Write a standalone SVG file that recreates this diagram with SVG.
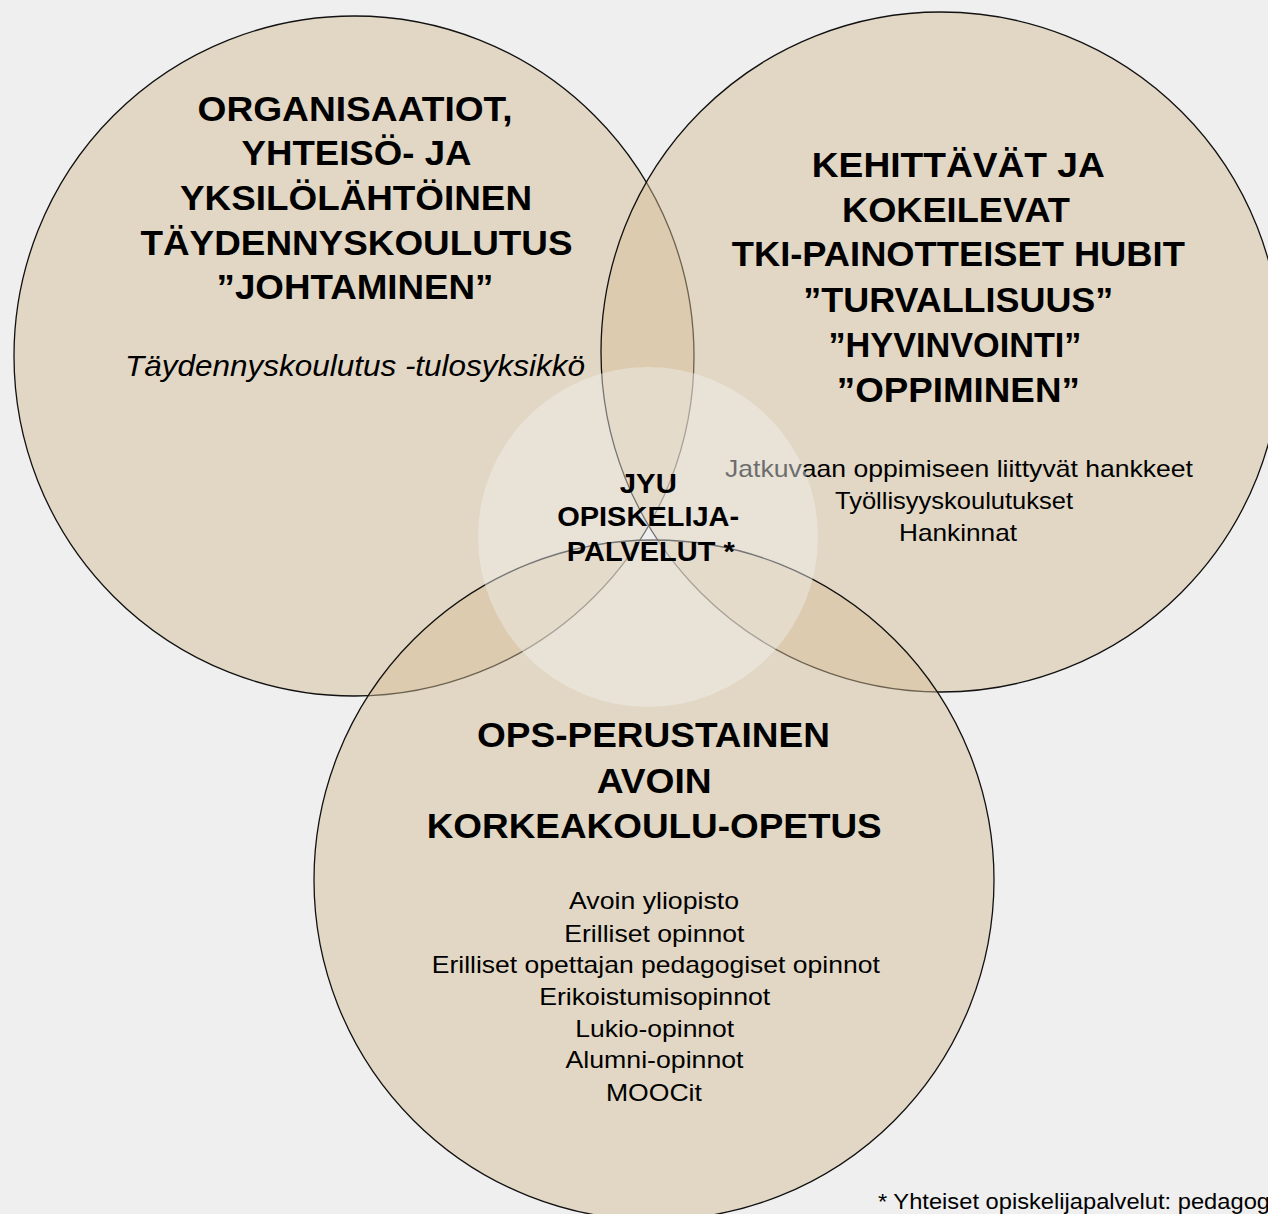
<svg xmlns="http://www.w3.org/2000/svg" width="1268" height="1214" viewBox="0 0 1268 1214">
  <style>
    .venn { fill: #d5be94; fill-opacity: 0.47; stroke: #111111; stroke-width: 1.3; }
    .hub { fill: #efefef; fill-opacity: 0.45; stroke: none; }
    text { font-family: "Liberation Sans", Arial, Helvetica, sans-serif; fill: #000; text-anchor: middle; }
    .title { font-size: 34.5px; font-weight: bold; }
    .ctitle { font-size: 27.5px; font-weight: bold; }
    .body { font-size: 24px; }
    .ital { font-size: 29px; font-style: italic; }
    .note { font-size: 22.5px; text-anchor: start; }
  </style>
  <rect x="0" y="0" width="1268" height="1214" fill="#efefef"/>

  <g id="circle-left">
    <circle class="venn" cx="354" cy="356" r="340"/>
  </g>
  <g id="circle-right">
    <circle class="venn" cx="941" cy="352" r="340"/>
  </g>
  <g id="circle-bottom">
    <circle class="venn" cx="654" cy="880" r="340"/>
  </g>

  <g id="label-left">
    <text class="title" x="355" y="120.5" textLength="315" lengthAdjust="spacingAndGlyphs">ORGANISAATIOT,</text>
    <text class="title" x="356.5" y="165" textLength="230" lengthAdjust="spacingAndGlyphs">YHTEISÖ- JA</text>
    <text class="title" x="356" y="210" textLength="352" lengthAdjust="spacingAndGlyphs">YKSILÖLÄHTÖINEN</text>
    <text class="title" x="356.5" y="254.5" textLength="432" lengthAdjust="spacingAndGlyphs">TÄYDENNYSKOULUTUS</text>
    <text class="title" x="355" y="298.5" textLength="277" lengthAdjust="spacingAndGlyphs">”JOHTAMINEN”</text>
    <text class="ital" x="355" y="375.5" textLength="460" lengthAdjust="spacingAndGlyphs">Täydennyskoulutus -tulosyksikkö</text>
  </g>

  <g id="label-right">
    <text class="title" x="958.3" y="176.7" textLength="293" lengthAdjust="spacingAndGlyphs">KEHITTÄVÄT JA</text>
    <text class="title" x="956" y="221.7" textLength="228" lengthAdjust="spacingAndGlyphs">KOKEILEVAT</text>
    <text class="title" x="958.3" y="266" textLength="453" lengthAdjust="spacingAndGlyphs">TKI-PAINOTTEISET HUBIT</text>
    <text class="title" x="958.3" y="311.7" textLength="310" lengthAdjust="spacingAndGlyphs">”TURVALLISUUS”</text>
    <text class="title" x="955" y="356.7" textLength="253" lengthAdjust="spacingAndGlyphs">”HYVINVOINTI”</text>
    <text class="title" x="958.3" y="401.7" textLength="243" lengthAdjust="spacingAndGlyphs">”OPPIMINEN”</text>
    <text class="body" x="959" y="476.7" textLength="468" lengthAdjust="spacingAndGlyphs">Jatkuvaan oppimiseen liittyvät hankkeet</text>
    <text class="body" x="954" y="509.3" textLength="238" lengthAdjust="spacingAndGlyphs">Työllisyyskoulutukset</text>
    <text class="body" x="958" y="540.7" textLength="118" lengthAdjust="spacingAndGlyphs">Hankinnat</text>
  </g>

  <g id="label-bottom">
    <text class="title" x="653.5" y="747.3" textLength="353" lengthAdjust="spacingAndGlyphs">OPS-PERUSTAINEN</text>
    <text class="title" x="654.2" y="792.7" textLength="115" lengthAdjust="spacingAndGlyphs">AVOIN</text>
    <text class="title" x="654.2" y="838.3" textLength="455" lengthAdjust="spacingAndGlyphs">KORKEAKOULU-OPETUS</text>
    <text class="body" x="654" y="909.3" textLength="170" lengthAdjust="spacingAndGlyphs">Avoin yliopisto</text>
    <text class="body" x="654.3" y="941.7" textLength="180" lengthAdjust="spacingAndGlyphs">Erilliset opinnot</text>
    <text class="body" x="655.8" y="972.7" textLength="448" lengthAdjust="spacingAndGlyphs">Erilliset opettajan pedagogiset opinnot</text>
    <text class="body" x="654.7" y="1005" textLength="231" lengthAdjust="spacingAndGlyphs">Erikoistumisopinnot</text>
    <text class="body" x="654.7" y="1036.7" textLength="159" lengthAdjust="spacingAndGlyphs">Lukio-opinnot</text>
    <text class="body" x="654.5" y="1068.3" textLength="178" lengthAdjust="spacingAndGlyphs">Alumni-opinnot</text>
    <text class="body" x="653.9" y="1100.7" textLength="96" lengthAdjust="spacingAndGlyphs">MOOCit</text>
  </g>

  <g id="hub-center">
    <circle class="hub" cx="648" cy="537" r="170"/>
    <text class="ctitle" x="648.3" y="493.3" textLength="57" lengthAdjust="spacingAndGlyphs">JYU</text>
    <text class="ctitle" x="648.2" y="525.7" textLength="182" lengthAdjust="spacingAndGlyphs">OPISKELIJA-</text>
    <text class="ctitle" x="650.8" y="561" textLength="168" lengthAdjust="spacingAndGlyphs">PALVELUT *</text>
  </g>

  <g id="connectors"></g>

  <g id="footnote">
    <text class="note" x="878" y="1209" textLength="392" lengthAdjust="spacingAndGlyphs">* Yhteiset opiskelijapalvelut: pedagog</text>
  </g>
</svg>
